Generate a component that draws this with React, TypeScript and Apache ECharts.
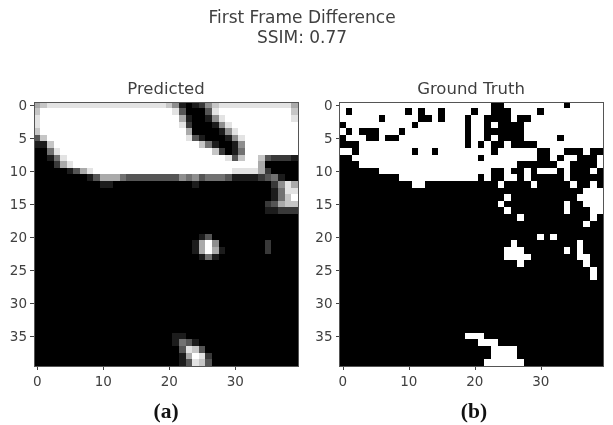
import React, { useEffect, useRef } from "react";
import * as echarts from "echarts";

const BLACK = "0000000000 0000000000 0000000000 0000000000";
const predictedRows: string[] = [
  "6788888888 8888888888 7510125788 8888888886",
  "7999999999 9999999999 9830003899 9999999997",
  "8999999999 9999999999 9961001589 9999999998",
  "8999999999 9999999999 9982000158 9999999999",
  "7999999999 9999999999 9996000015 8999999999",
  "3799999999 9999999999 9998310001 5899999999",
  "1179999999 9999999999 9999974100 1599999999",
  "0048999999 9999999999 9999999720 1499999999",
  "0014899999 9999999999 9999999998 3799732221",
  "0002689999 9999999999 9999999999 9999600000",
  "0000013689 9999999999 9999999999 8888620000",
  "0000000013 6664333333 3354534443 1111234100",
  "0000000000 1100000000 0000100000 0000002586",
  "0000000000 0000000000 0000000000 0000001488",
  "0000000000 0000000000 0000000000 0000001479",
  "0000000000 0000000000 0000000000 0000023677",
  "0000000000 0000000000 0000000000 0000011222",
  BLACK,
  BLACK,
  BLACK,
  "0000000000 0000000000 0000013000 0000000000",
  "0000000000 0000000000 0000169500 0000020000",
  "0000000000 0000000000 0000169610 0000020000",
  "0000000000 0000000000 0000014100 0000000000",
  BLACK, BLACK, BLACK, BLACK, BLACK, BLACK, BLACK, BLACK, BLACK, BLACK, BLACK,
  "0000000000 0000000000 0110000000 0000000000",
  "0000000000 0000000000 0143100000 0000000000",
  "0000000000 0000000000 0038730000 0000000000",
  "0000000000 0000000000 0016982000 0000000000",
  "0000000000 0000000000 0013873000 0000000000",
];

const NONE = ".......... .......... .......... ..........";
const truthRows: string[] = [
  "########## ########## ###..##### ####.#####",
  "#.######## .#.##.#### .##...#### .#########",
  "######.### ##..#.###. ##....#..# ##########",
  ".######### #.#######. ##.#....## ##########",
  "#.#...###. #########. ##......## ##########",
  ".###..#..# #########. ##.#....## ###.######",
  "...####### #########. #.#..#.... ##########",
  "##.####### #.##.##### ###.###### ..##...#..",
  "..######## ########## #.######## ..#.##...#",
  "...####### ########## #######... ...##....#",
  "......#### ########## ###..#..#. ###.#...#.",
  ".........# ########## #.#..##.#. ....#.....",
  ".......... .##....... ....#....# .....#..#.",
  ".......... .......... .......... .......###",
  ".......... .......... .....#.... ......####",
  ".......... .......... ....#..... ....#..###",
  ".......... .......... .....#.... ....#...##",
  ".......... .......... .......#.. ........#.",
  ".......... .......... .......... .......#..",
  NONE,
  ".......... .......... .......... #.#.......",
  ".......... .......... ......#... ......#...",
  ".......... .......... .....###.. ....#.#...",
  ".......... .......... .....####. ......##..",
  ".......... .......... .......#.. .......#..",
  ".......... .......... .......... ........#.",
  ".......... .......... .......... ........#.",
  NONE, NONE, NONE, NONE, NONE, NONE, NONE, NONE,
  ".......... .........# ##........ ..........",
  ".......... .......... .###...... ..........",
  ".......... .......... ...####... ..........",
  ".......... .......... ...####... ..........",
  ".......... .......... ..######.. ..........",
];

const cellIndex: string[] = Array.from({ length: 40 }, (_, i) => String(i));
const xTickStep = 10;
const yTickStep = 5;

function cells(rows: string[]): number[][] {
  const out: number[][] = [];
  rows.forEach((row, r) => {
    row.replace(/ /g, "").split("").forEach((ch, c) => {
      const v = ch === "#" ? 9 : ch === "." ? 0 : Number(ch);
      out.push([c, r, v]);
    });
  });
  return out;
}

const TEXT = "#404040";
const FONT = "DejaVu Sans";

function xAxis(gridIndex: number) {
  return {
    type: "category", gridIndex, data: cellIndex,
    axisTick: { show: true, alignWithLabel: true, length: 4, interval: (i: number) => i % xTickStep === 0, lineStyle: { color: TEXT } },
    axisLabel: { interval: (i: number) => i % xTickStep === 0, color: TEXT, fontFamily: FONT, fontSize: 13.5, margin: 8 },
    axisLine: { show: true, lineStyle: { color: TEXT } },
    splitLine: { show: false },
  };
}
function yAxis(gridIndex: number) {
  return {
    type: "category", gridIndex, data: cellIndex, inverse: true,
    axisTick: { show: true, alignWithLabel: true, length: 4, interval: (i: number) => i % yTickStep === 0, lineStyle: { color: TEXT } },
    axisLabel: { interval: (i: number) => i % yTickStep === 0, color: TEXT, fontFamily: FONT, fontSize: 13.5, margin: 7 },
    axisLine: { show: true, lineStyle: { color: TEXT } },
    splitLine: { show: false },
  };
}

function frame(x: number) {
  return {
    type: "rect", z: 100, silent: true,
    shape: { x, y: 102, width: 264, height: 264 },
    style: { fill: "none", stroke: "#555555", lineWidth: 1 },
  };
}

export default function App() {
  const ref = useRef<HTMLDivElement>(null);
  useEffect(() => {
    const chart = echarts.init(ref.current!, undefined, { renderer: "svg" });
    chart.setOption({
      animation: false,
      backgroundColor: "#ffffff",
      title: [
        { text: "First Frame Difference\nSSIM: 0.77", left: 297, top: 2, textAlign: "center",
          textStyle: { fontFamily: FONT, fontWeight: "normal", fontSize: 17, color: TEXT, lineHeight: 20, align: "center" } },
        { text: "Predicted", left: 161, top: 75, textAlign: "center",
          textStyle: { fontFamily: FONT, fontWeight: "normal", fontSize: 16.5, color: TEXT } },
        { text: "Ground Truth", left: 466, top: 75, textAlign: "center",
          textStyle: { fontFamily: FONT, fontWeight: "normal", fontSize: 16.5, color: TEXT } },
        { text: "(a)", left: 161, top: 395, textAlign: "center",
          textStyle: { fontFamily: "Liberation Serif", fontWeight: "bold", fontSize: 21.5, color: "#111" } },
        { text: "(b)", left: 469, top: 395, textAlign: "center",
          textStyle: { fontFamily: "Liberation Serif", fontWeight: "bold", fontSize: 21.5, color: "#111" } },
      ],
      grid: [
        { left: 34, top: 102, width: 264, height: 264, show: true, borderWidth: 0, backgroundColor: "#000" },
        { left: 339.5, top: 102, width: 264, height: 264, show: true, borderWidth: 0, backgroundColor: "#000" },
      ],
      xAxis: [xAxis(0), xAxis(1)],
      yAxis: [yAxis(0), yAxis(1)],
      visualMap: { show: false, min: 0, max: 9, dimension: 2, seriesIndex: [0, 1], inRange: { color: ["#000000", "#ffffff"] } },
      graphic: [frame(34), frame(339.5)],
      series: [
        { type: "heatmap", xAxisIndex: 0, yAxisIndex: 0, data: cells(predictedRows), itemStyle: { borderWidth: 0 } },
        { type: "heatmap", xAxisIndex: 1, yAxisIndex: 1, data: cells(truthRows), itemStyle: { borderWidth: 0 } },
      ],
    });
    return () => chart.dispose();
  }, []);
  return (
    <>
      <style>{"svg path{shape-rendering:crispEdges}"}</style>
      <div
        ref={ref}
        style={{ position: "fixed", left: 0, top: 0, width: 613, height: 425, filter: "blur(0.7px)" }}
      />
    </>
  );
}
